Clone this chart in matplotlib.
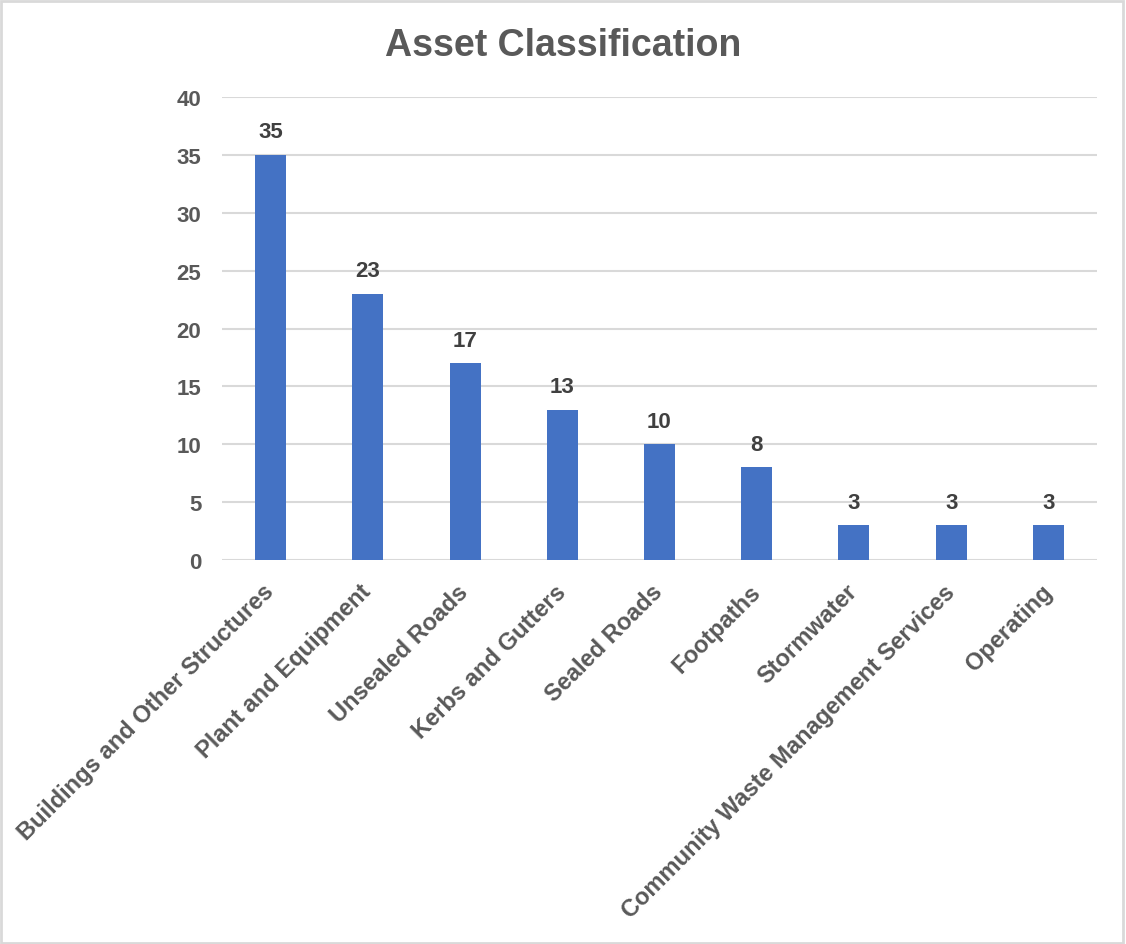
import matplotlib.pyplot as plt
import numpy as np

plt.rcParams['font.family'] = ['Liberation Sans', 'DejaVu Sans']

categories = ["Buildings and Other Structures", "Plant and Equipment", "Unsealed Roads",
              "Kerbs and Gutters", "Sealed Roads", "Footpaths", "Stormwater",
              "Community Waste Management Services", "Operating"]
values = [35, 23, 17, 13, 10, 8, 3, 3, 3]
yticks = [0, 5, 10, 15, 20, 25, 30, 35, 40]

fig = plt.figure(figsize=(11.26, 9.45), dpi=100)
ax = fig.add_axes([0.1972, 0.4063, 0.7770, 0.4900])

x = np.arange(len(categories))
ax.bar(x, values, width=0.32, color='#4472C4', zorder=3)

for xi, v in zip(x, values):
    ax.text(xi, v + 1.1, str(v), ha='center', va='bottom', fontsize=16,
            fontweight='bold', color='#404040', zorder=4)

ax.set_xlim(-0.5, len(categories) - 0.5)
ax.set_ylim(0, 40)
ax.set_yticks(yticks)
ax.set_yticklabels([str(t) for t in yticks], fontsize=16, fontweight='bold', color='#595959')
ax.grid(axis='y', color='#d9d9d9', linewidth=1.5, zorder=0)
ax.set_xticks(x)
ax.set_xticklabels(categories, rotation=45, ha='right', va='center', rotation_mode='anchor',
                   fontsize=17, fontweight='bold', color='#595959')
ax.tick_params(axis='both', length=0)
ax.tick_params(axis='x', pad=20)
ax.tick_params(axis='y', pad=15)
for s in ax.spines.values():
    s.set_visible(False)

fig.text(0.5, 0.951, "Asset Classification", ha='center', va='center', fontsize=27,
         fontweight='bold', color='#595959')

fig.add_artist(plt.Rectangle((0.001, 0.001), 0.996, 0.997, transform=fig.transFigure,
                             fill=False, edgecolor='#d9d9d9', linewidth=2))

plt.savefig("out.png")
